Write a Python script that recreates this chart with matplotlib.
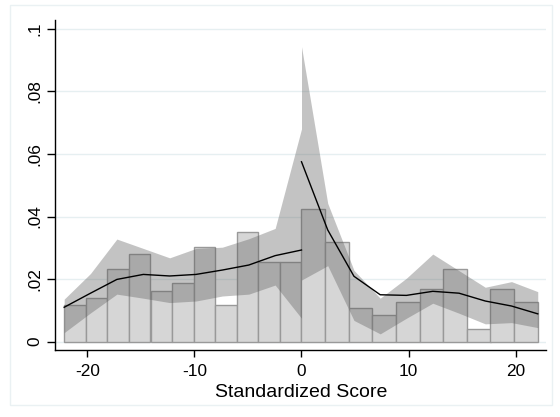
import numpy as np
import matplotlib.pyplot as plt
from matplotlib.patches import Rectangle

plt.rcParams['font.family'] = ['Liberation Sans', 'DejaVu Sans']

# histogram bins (centers, widths) and densities
left_centers = [-21.15, -19.14, -17.12, -15.11, -13.09, -11.08, -9.06, -7.05, -5.03, -3.02, -1.01]
left_width = 2.015
left_density = [0.0116, 0.0139, 0.0231, 0.0279, 0.0161, 0.0187, 0.0302, 0.0116, 0.0350, 0.0254, 0.0254]

right_centers = [1.10, 3.31, 5.52, 7.72, 9.93, 12.13, 14.34, 16.55, 18.75, 20.96]
right_width = 2.206
right_density = [0.0423, 0.0318, 0.0107, 0.0084, 0.0126, 0.0168, 0.0232, 0.0042, 0.0168, 0.0126]

# local fit with confidence band
left_x = [-22.16, -19.70, -17.24, -14.77, -12.31, -9.85, -7.39, -4.92, -2.46, 0.0]
left_fit = [0.0110, 0.0155, 0.0199, 0.0215, 0.0210, 0.0215, 0.0229, 0.0245, 0.0275, 0.0293]
left_hi = [0.0136, 0.0218, 0.0328, 0.0298, 0.0268, 0.0298, 0.0302, 0.0329, 0.0362, 0.0680]
left_lo = [0.0029, 0.0092, 0.0152, 0.0139, 0.0125, 0.0130, 0.0146, 0.0152, 0.0181, 0.0075]

right_x = [0.0, 2.45, 4.90, 7.35, 9.80, 12.26, 14.71, 17.16, 19.61, 22.06]
right_fit = [0.0575, 0.0357, 0.0209, 0.0150, 0.0148, 0.0161, 0.0155, 0.0130, 0.0114, 0.0089]
right_hi = [0.0943, 0.0442, 0.0228, 0.0139, 0.0203, 0.0280, 0.0227, 0.0174, 0.0192, 0.0160]
right_lo = [0.0197, 0.0243, 0.0068, 0.0025, 0.0075, 0.0123, 0.0091, 0.0057, 0.0061, 0.0045]

yticks = [0, 0.02, 0.04, 0.06, 0.08, 0.1]
ytick_labels = ['0', '.02', '.04', '.06', '.08', '.1']
xticks = [-20, -10, 0, 10, 20]

fig = plt.figure(figsize=(5.6, 4.17), dpi=100)
fig.patches.append(Rectangle((10 / 560, 12 / 417), 542 / 560, 400 / 417, transform=fig.transFigure,
                             fill=False, edgecolor='#eaf1f3', lw=1))
ax = fig.add_axes([0.0991, 0.1607, 0.8759, 0.7913])

for y in yticks:
    ax.axhline(y, color='#e6eff1', lw=1, zorder=0)

ax.bar(left_centers, left_density, width=left_width, color='#d6d6d6', edgecolor='#999999', lw=1, zorder=1)
ax.bar(right_centers, right_density, width=right_width, color='#d6d6d6', edgecolor='#999999', lw=1, zorder=1)

ax.fill_between(left_x, left_lo, left_hi, color='#555555', alpha=0.35, lw=0, zorder=2)
ax.fill_between(right_x, right_lo, right_hi, color='#555555', alpha=0.35, lw=0, zorder=2)
ax.plot(left_x, left_fit, color='black', lw=1, zorder=3)
ax.plot(right_x, right_fit, color='black', lw=1, zorder=3)

ax.set_xlim(-22.97, 22.83)
ax.set_ylim(-0.00265, 0.1028)
ax.set_xticks(xticks)
ax.set_xticklabels([str(t) for t in xticks])
ax.set_yticks(yticks)
ax.set_yticklabels(ytick_labels, rotation=90, va='center')
ax.tick_params(axis='x', length=5, width=1, labelsize=12.4, pad=5)
ax.tick_params(axis='y', length=6, width=1, labelsize=12.4, pad=3.5)
ax.set_xlabel('Standardized Score', fontsize=14, labelpad=3.5)

ax.spines['top'].set_visible(False)
ax.spines['right'].set_visible(False)
ax.spines['left'].set_linewidth(1)
ax.spines['bottom'].set_linewidth(1)

fig.savefig('out.png', dpi=100)
